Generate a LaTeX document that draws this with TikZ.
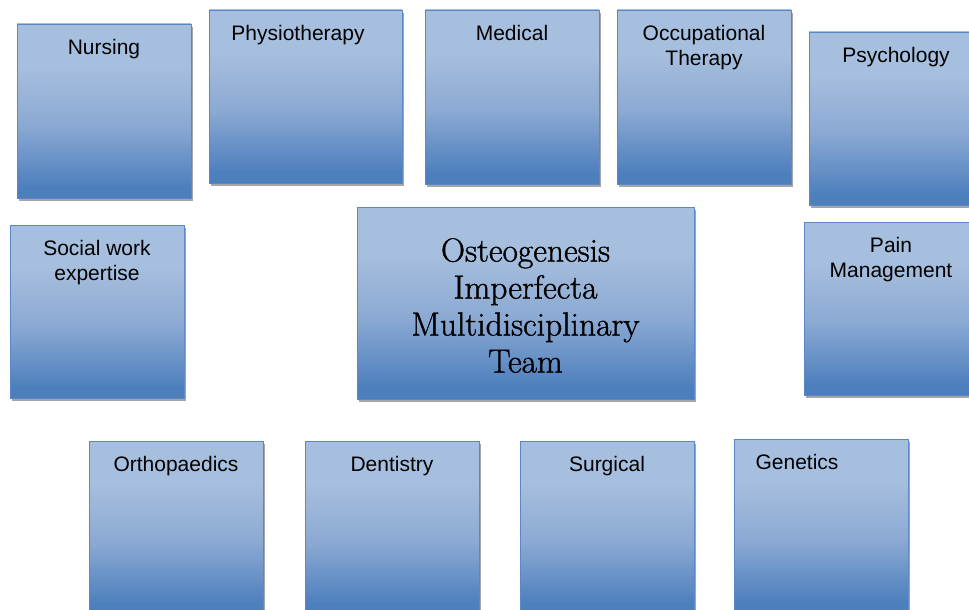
\documentclass[tikz,border=0pt]{standalone}
\usepackage{fontspec}
\newfontfamily\deptfont{Liberation Sans}
\newfontfamily\hubfont[RawFeature={embolden=1.1}]{Latin Modern Roman}
\usepackage{xcolor}
\usepackage{tikz}
\usetikzlibrary{positioning,shadows}

\definecolor{boxtop}{HTML}{A7BFDE}
\definecolor{boxmid}{HTML}{8BA9D3}
\definecolor{boxbot}{HTML}{4D7FBD}
\definecolor{boxline}{HTML}{5A88C4}
\definecolor{boxshadow}{HTML}{A6A6A6}

% light at the top, darker towards the foot
\pgfdeclareverticalshading{unitshade}{100bp}{color(0bp)=(boxbot); color(28bp)=(boxbot);
    color(46bp)=(boxmid); color(63bp)=(boxtop); color(100bp)=(boxtop)}

\begin{document}
\begin{tikzpicture}[x=1pt, y=-1pt, node distance = 16pt]
            \tikzstyle{unit} = [rectangle, draw=boxline, line width=0.9pt, inner sep=0pt,
                shading=unitshade, minimum width=174pt, minimum height=174pt,
                drop shadow={shadow xshift=1.5pt, shadow yshift=-3pt, fill=boxshadow, opacity=1}];
            \tikzstyle{dept} = [inner sep=0pt, align=center, font=\deptfont\fontsize{21}{24.5}\selectfont];
            \tikzstyle{hub} = [inner sep=0pt, align=center, font=\hubfont\fontsize{33.5}{37}\selectfont];

            \useasboundingbox (0,0) rectangle (969,610);
            \clip (0,0) rectangle (969,610);

            % top row
            \node [unit] (nurse) at (104,111) {};
            \node [unit, minimum width=193pt, minimum height=173pt] (physio) at (305.5,96.5) {};
            \node [unit] (medic) at (512,97) {};
            \node [unit] (occup) at (704,97) {};
            \node [unit, minimum height=173pt] (psych) at (896,118.5) {};

            % middle row
            \node [unit, minimum height=173pt] (social) at (97,311.5) {};
            \node [unit, minimum width=337pt, minimum height=192pt] (team) at (525.5,303) {};
            \node [unit, minimum height=173pt] (pain) at (891,308.5) {};

            % bottom row
            \node [unit] (ortho) at (176,528) {};
            \node [unit] (dent) at (392,528) {};
            \node [unit] (surg) at (607,528) {};
            \node [unit] (genet) at (821,526) {};

            \node [dept, below = of nurse.north] (Lnurse) {Nursing};
            \node [dept, below = of physio.north, xshift=-7.5pt] (Lphysio) {Physiotherapy};
            \node [dept, below = of medic.north] (Lmedic) {Medical};
            \node [dept, below = of occup.north] (Loccup) {Occupational\\Therapy};
            \node [dept, below = of psych.north] (Lpsych) {Psychology};
            \node [dept, below = of social.north] (Lsocial) {Social work\\expertise};
            \node [dept, below = of pain.north] (Lpain) {Pain\\Management};
            \node [dept, below = of ortho.north] (Lortho) {Orthopaedics};
            \node [dept, below = of dent.north] (Ldent) {Dentistry};
            \node [dept, below = of surg.north] (Lsurg) {Surgical};
            \node [dept, below = of genet.north, xshift=-24pt] (Lgenet) {Genetics};

            \node [hub, yshift=-2.5pt] (Lteam) at (team) {Osteogenesis\\Imperfecta\\Multidisciplinary\\Team};
        \end{tikzpicture}
\end{document}
